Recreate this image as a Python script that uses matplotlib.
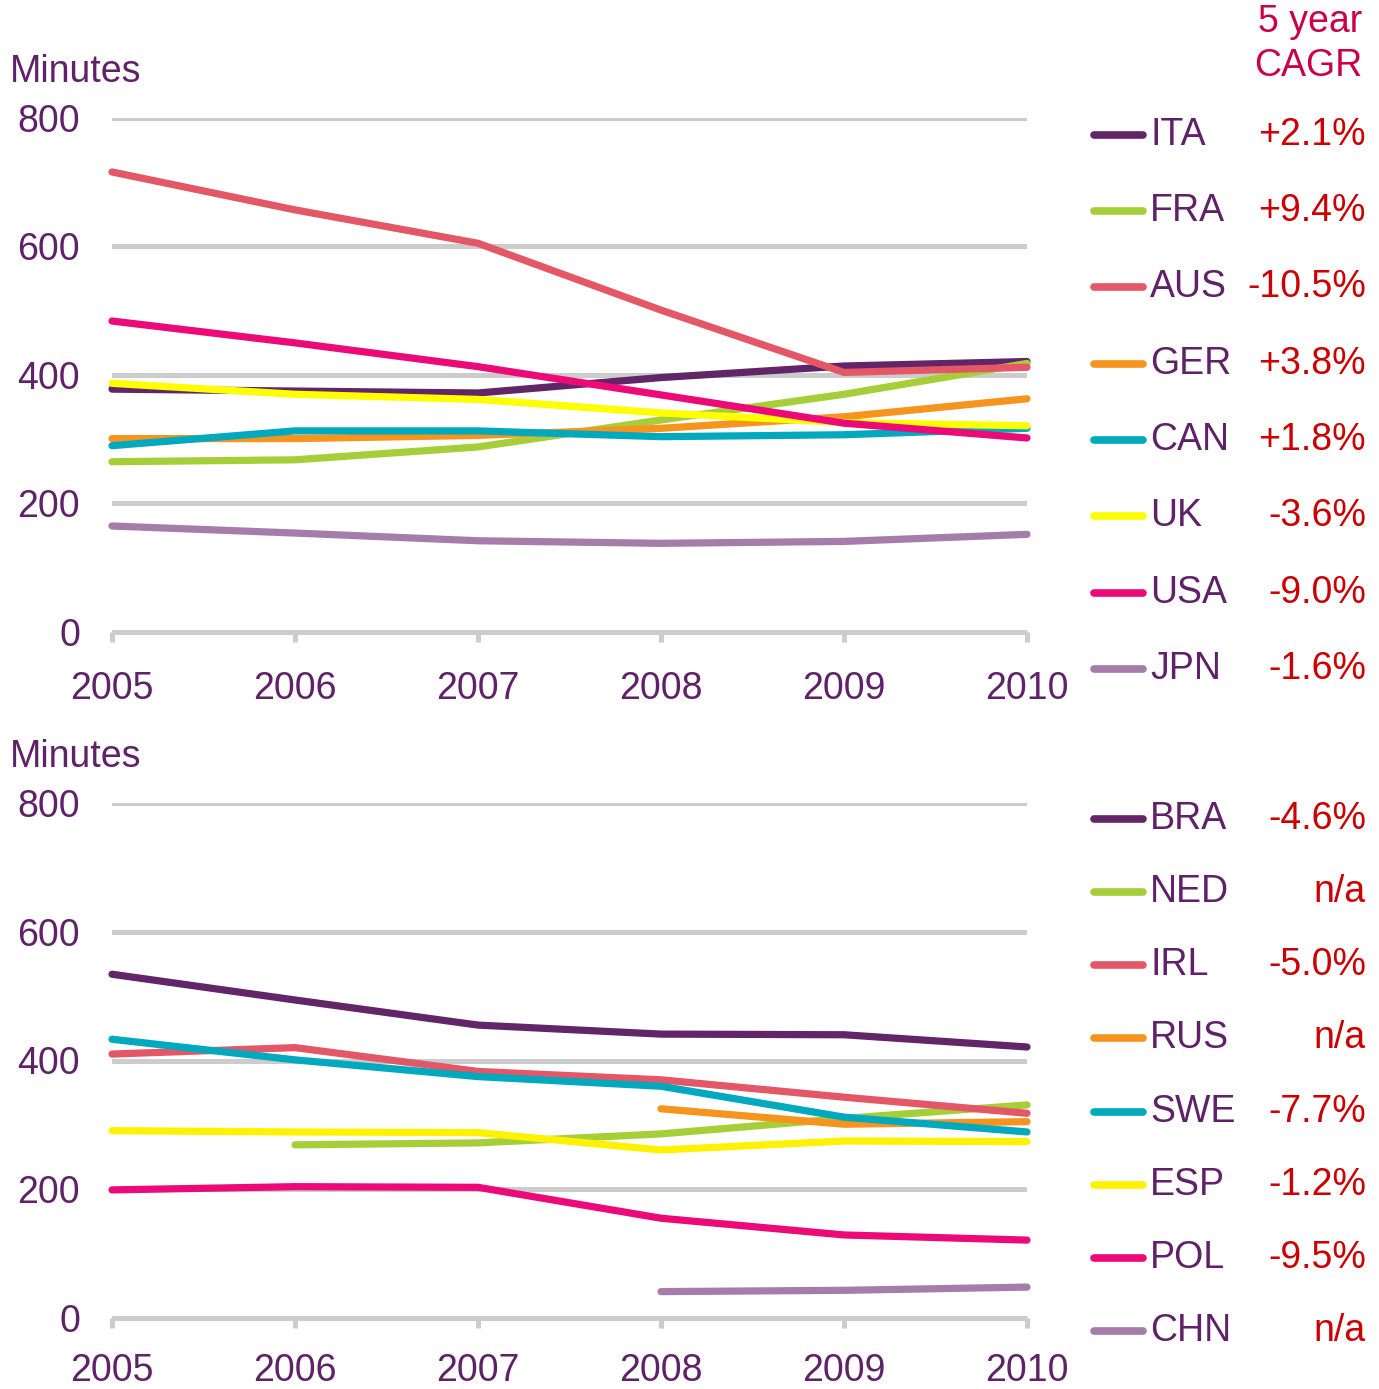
import numpy as np
import matplotlib
matplotlib.use('Agg')
import matplotlib.pyplot as plt
from matplotlib.lines import Line2D

plt.rcParams['font.family'] = ['Liberation Sans', 'DejaVu Sans']

W, H = 1379, 1389
years = [2005, 2006, 2007, 2008, 2009, 2010]
nan = np.nan

# top panel
top_names = ['ITA', 'FRA', 'AUS', 'GER', 'CAN', 'UK', 'USA', 'JPN']
top_cagr = ['+2.1%', '+9.4%', '-10.5%', '+3.8%', '+1.8%', '-3.6%', '-9.0%', '-1.6%']
ita = [378, 375, 372, 396, 414, 421]
fra = [265, 268, 288, 330, 370, 418]
aus = [716, 657, 605, 501, 404, 412]
ger = [301, 301, 306, 317, 335, 363]
can = [290, 313, 313, 304, 307, 317]
uk = [387, 370, 362, 341, 326, 321]
usa = [484, 450, 413, 369, 325, 302]
jpn = [165, 154, 142, 138, 141, 152]
top_series = [ita, fra, aus, ger, can, uk, usa, jpn]

# bottom panel
bot_names = ['BRA', 'NED', 'IRL', 'RUS', 'SWE', 'ESP', 'POL', 'CHN']
bot_cagr = ['-4.6%', 'n/a', '-5.0%', 'n/a', '-7.7%', '-1.2%', '-9.5%', 'n/a']
bra = [534, 494, 455, 441, 440, 421]
ned = [nan, 269, 272, 286, 310, 331]
irl = [410, 420, 383, 370, 343, 318]
rus = [nan, nan, nan, 325, 301, 305]
swe = [433, 401, 375, 360, 312, 289]
esp = [291, 289, 288, 261, 275, 274]
pol = [199, 204, 203, 155, 129, 121]
chn = [nan, nan, nan, 41, 43, 48]
bot_series = [bra, ned, irl, rus, swe, esp, pol, chn]

top_colors = ['#622567', '#A6CE39', '#E35766', '#F7941D', '#00A9BD', '#FFFF00', '#EC0A78', '#A67CAA']
bot_colors = ['#622567', '#A6CE39', '#E35766', '#F7941D', '#00A9BD', '#FFF200', '#EC0A78', '#A67CAA']

PURPLE = '#5F2167'
RED = '#CC0000'
GRID = '#CCCCCC'
FS = 27


def fx(px):
    return px / W


def fy(py):
    return 1 - py / H


def setup_axes(ax, xpad):
    ax.set_xlim(2005, 2010)
    ax.set_ylim(0, 800)
    ax.set_yticks([0, 200, 400, 600, 800])
    ax.set_xticks(years)
    for s in ['top', 'right', 'left']:
        ax.spines[s].set_visible(False)
    ax.spines['bottom'].set_color(GRID)
    ax.spines['bottom'].set_linewidth(3.6)
    ax.spines['bottom'].set_capstyle('butt')
    ax.yaxis.grid(True, color=GRID, linewidth=3.6)
    ax.set_axisbelow(True)
    ax.tick_params(axis='y', length=0, pad=23, labelsize=FS, labelcolor=PURPLE)
    ax.tick_params(axis='x', length=7, width=3.6, color=GRID, pad=xpad,
                   labelsize=FS, labelcolor=PURPLE, direction='out')


def draw_panel(ax, series, colors, xpad=21):
    setup_axes(ax, xpad)
    for vals, c in zip(series, colors):
        ax.plot(years, vals, color=c, linewidth=5.2, solid_capstyle='round',
                solid_joinstyle='round', clip_on=False, zorder=3)


def draw_legend(fig, names, cagr, colors, ys):
    for n, v, c, y in zip(names, cagr, colors, ys):
        fig.add_artist(Line2D([fx(1094), fx(1143)], [fy(y), fy(y)], color=c,
                              linewidth=5.5, solid_capstyle='round'))
        fig.text(fx(1150), fy(y), n, color=PURPLE, fontsize=FS, va='center', ha='left')
        fig.text(fx(1366), fy(y), v, color=RED, fontsize=FS, va='center', ha='right')


fig = plt.figure(figsize=(W / 100, H / 100), dpi=100)

ax1 = fig.add_axes([fx(112), fy(632), fx(1027) - fx(112), (632 - 118) / H])
draw_panel(ax1, top_series, top_colors)
ax2 = fig.add_axes([fx(112), fy(1318), fx(1027) - fx(112), (1318 - 803) / H])
draw_panel(ax2, bot_series, bot_colors, xpad=18)

fig.text(fx(10), fy(72), 'Minutes', color=PURPLE, fontsize=FS, va='center', ha='left')
fig.text(fx(10), fy(757), 'Minutes', color=PURPLE, fontsize=FS, va='center', ha='left')

fig.text(fx(1362), fy(22), '5 year', color='#CC0044', fontsize=FS, va='center', ha='right')
fig.text(fx(1362), fy(66), 'CAGR', color='#CC0044', fontsize=FS, va='center', ha='right')

top_y = [135, 211, 287, 364, 440, 516, 593, 669]
bot_y = [819, 892, 965, 1038, 1112, 1185, 1258, 1331]
draw_legend(fig, top_names, top_cagr, top_colors, top_y)
draw_legend(fig, bot_names, bot_cagr, bot_colors, bot_y)

fig.savefig('out.png', dpi=100)
